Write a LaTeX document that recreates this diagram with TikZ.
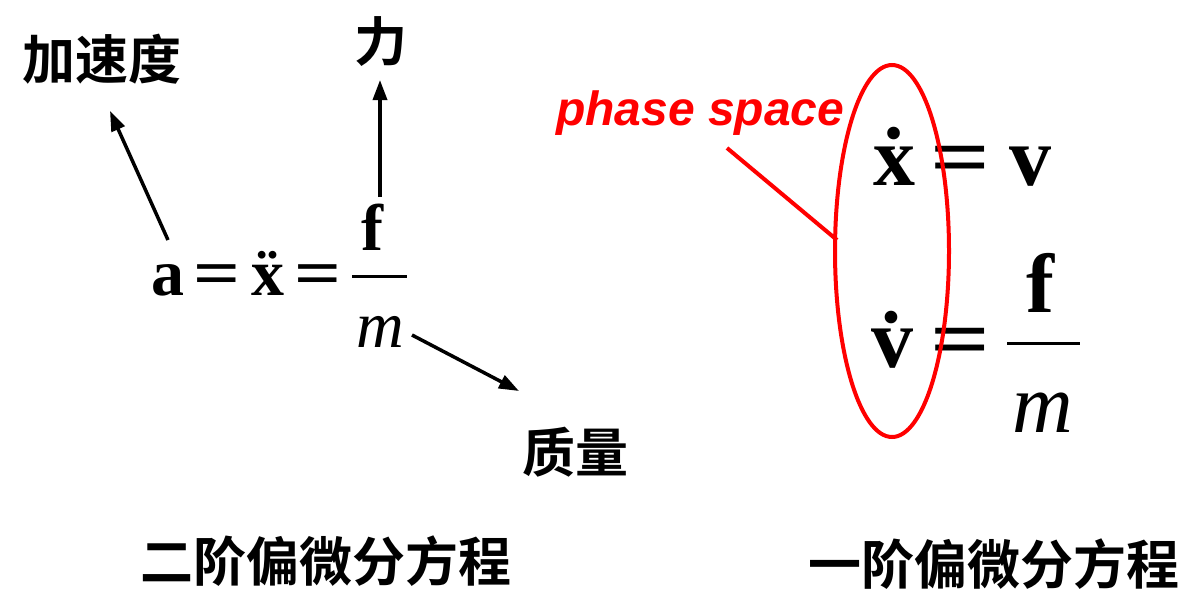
\documentclass[tikz,border=0pt]{standalone}
\usepackage{fontspec}
\usetikzlibrary{arrows.meta}
\newfontfamily\cjk{Noto Sans CJK SC}[BoldFont=* Bold]
\newfontfamily\tms{Liberation Serif}
\newfontfamily\arl{Liberation Sans}
\begin{document}
\begin{tikzpicture}[x=1pt,y=-1pt,
  cjklab/.style={inner sep=0pt, font=\cjk\bfseries\fontsize{53}{53}\selectfont},
  eqL/.style={inner sep=0pt, anchor=base, font=\tms\fontsize{66}{66}\selectfont},
  eqR/.style={inner sep=0pt, anchor=base, font=\tms\fontsize{84}{84}\selectfont},
  wideeq/.style={xscale=1.25, transform shape},
  arr/.style={line width=3.5pt, -{Triangle[length=20pt,width=14pt]}},
  fracbar/.style={line width=3pt},
  redline/.style={red, line width=4pt}]
\useasboundingbox (0,0) rectangle (1202,592);
% labels
\node[cjklab] (acc) at (102,59) {加速度};
\node[cjklab] (force) at (381,42) {力};
\node[cjklab] (mass) at (575,452) {质量};
\node[cjklab] (second) at (326,561) {二阶偏微分方程};
\node[cjklab] (first) at (994,564) {一阶偏微分方程};
% left equation
\node[eqL] (a) at (168,295) {\bfseries a};
\node[eqL, wideeq] (eq1) at (217.5,295) {\bfseries =};
\node[eqL] (xdd) at (267.5,295) {\bfseries\"{x}};
\node[eqL, wideeq] (eq2) at (318,295) {\bfseries =};
\node[eqL] (fL) at (372,250) {\bfseries f};
\coordinate (barL1) at (352,276);
\coordinate (barL2) at (407,276);
\draw[fracbar] (barL1) -- (barL2);
\node[eqL] (mL) at (380,347) {\itshape m};
% arrows
\coordinate (aTop) at (168,240);
\coordinate (accTip) at (110,111);
\coordinate (fTop) at (380,197);
\coordinate (forceTip) at (380,80);
\coordinate (mEnd) at (412,335);
\coordinate (massTip) at (519,391);
\draw[arr] (aTop) -- (accTip);
\draw[arr] (fTop) -- (forceTip);
\draw[arr] (mEnd) -- (massTip);
% right equations
\node[eqR] (xd) at (894,185) {\bfseries\.{x}};
\node[eqR, wideeq] (eq3) at (960,185) {\bfseries =};
\node[eqR] (vR) at (1030,185) {\bfseries v};
\node[eqR] (vd) at (892,367) {\bfseries\.{v}};
\node[eqR, wideeq] (eq4) at (960,367) {\bfseries =};
\node[eqR] (fR) at (1040,312) {\bfseries f};
\coordinate (barR1) at (1007,343);
\coordinate (barR2) at (1080,343);
\draw[fracbar] (barR1) -- (barR2);
\node[eqR] (mR) at (1043,432) {\itshape m};
% phase space
\draw[redline] (892,251) ellipse [x radius=57, y radius=186];
\node[inner sep=0pt, anchor=base west, text=red, font=\arl\bfseries\itshape\fontsize{48}{48}\selectfont] (phase) at (556,125) {phase space};
\coordinate (pLine1) at (727,148);
\coordinate (pLine2) at (837,240);
\draw[redline] (pLine1) -- (pLine2);
\end{tikzpicture}
\end{document}
